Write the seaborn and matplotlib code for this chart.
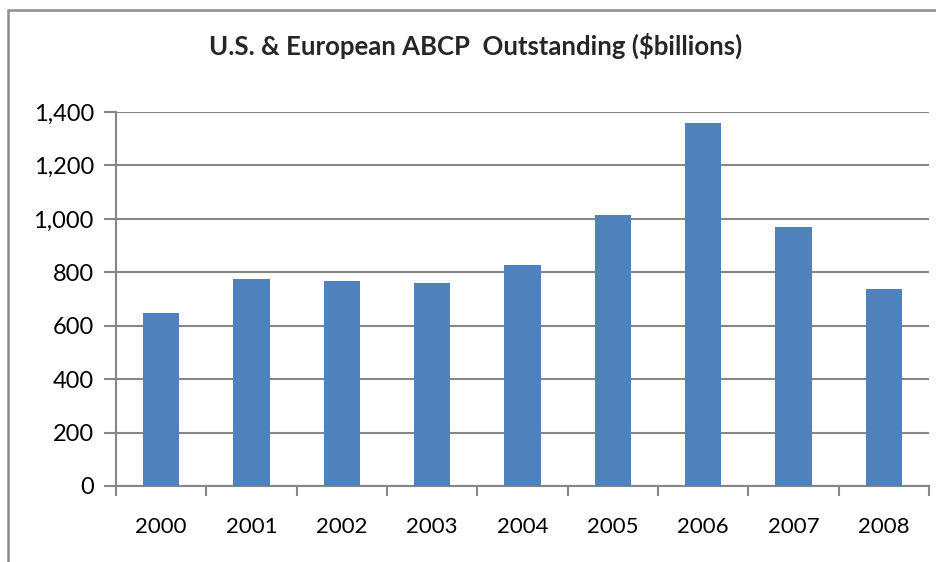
import matplotlib
matplotlib.use("Agg")
import matplotlib.pyplot as plt
import seaborn as sns
import pandas as pd
from matplotlib.patches import Rectangle
from matplotlib.ticker import FuncFormatter, FixedLocator

years = ["2000", "2001", "2002", "2003", "2004", "2005", "2006", "2007", "2008"]
values = [648, 775, 767, 760, 827, 1015, 1359, 970, 738]
yticks = [0, 200, 400, 600, 800, 1000, 1200, 1400]

sns.set_theme(style="white")
plt.rcParams['font.family'] = ['Lato', 'DejaVu Sans']

df = pd.DataFrame({"year": years, "value": values})

fig = plt.figure(figsize=(9.36, 5.62), dpi=100)
ax = fig.add_axes([116/936, 1-486/562, (929-116)/936, (486-112)/562])

sns.barplot(data=df, x="year", y="value", color="#4F81BD", width=0.4,
            saturation=1, linewidth=0, ax=ax, zorder=3)

ax.set_ylim(0, 1400)
ax.set_xlim(-0.5, 8.5)
ax.set_yticks(yticks)
ax.yaxis.set_major_formatter(FuncFormatter(lambda v, p: f"{int(v):,}"))
ax.grid(axis="y", color="#868686", linewidth=1.5, zorder=0)
ax.set_axisbelow(True)
ax.set_xlabel("")
ax.set_ylabel("")

for s in ["top", "right"]:
    ax.spines[s].set_visible(False)
for s in ["left", "bottom"]:
    ax.spines[s].set_color("#868686")
    ax.spines[s].set_linewidth(1.5)

ax.tick_params(axis="y", length=9, width=1.5, color="#868686", pad=7,
               labelsize=17, labelcolor="black", left=True)
ax.tick_params(axis="x", which="major", length=0, pad=22, labelsize=16,
               labelcolor="black")
ax.xaxis.set_minor_locator(FixedLocator([i - 0.5 for i in range(len(years) + 1)]))
ax.tick_params(axis="x", which="minor", length=7, width=1.5, color="#868686",
               bottom=True)

fig.text(476/936, 1-46/562, "U.S. & European ABCP  Outstanding ($billions)",
         ha="center", va="center", fontsize=18.5, fontweight="bold")

fig.patches.append(Rectangle((8/936, -0.05), 1.1, 1-10/562 + 0.05,
                             transform=fig.transFigure, fill=False,
                             edgecolor="#8c8c8c", linewidth=1.8))

fig.savefig("out.png", dpi=100)
